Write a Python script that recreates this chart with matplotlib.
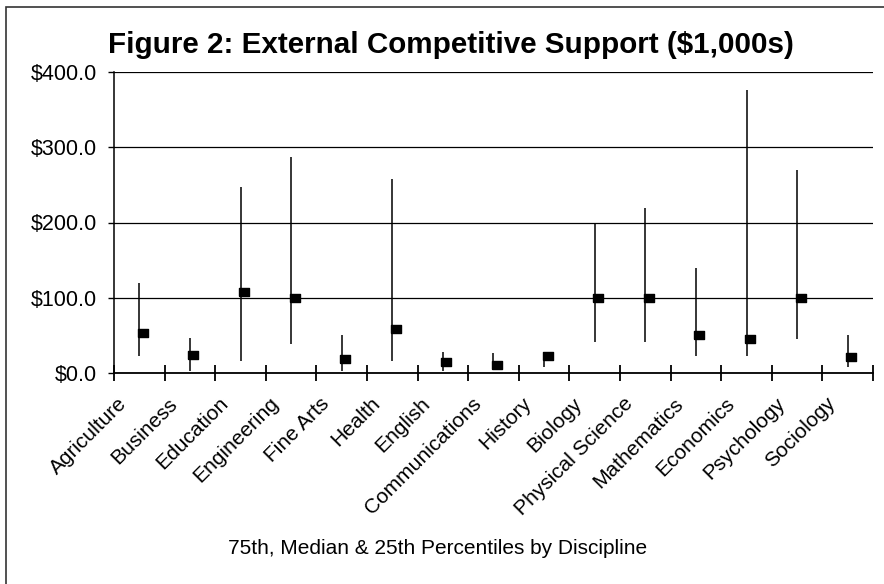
import matplotlib
matplotlib.use("Agg")
import matplotlib.pyplot as plt
from matplotlib.patches import Rectangle
from matplotlib.ticker import FixedLocator, FuncFormatter
from matplotlib.transforms import ScaledTranslation

plt.rcParams['font.family'] = ['Liberation Sans', 'DejaVu Sans']

disciplines = ["Agriculture", "Business", "Education", "Engineering", "Fine Arts",
               "Health", "English", "Communications", "History", "Biology",
               "Physical Science", "Mathematics", "Economics", "Psychology", "Sociology"]
p75 = [120, 46, 247, 287, 50, 258, 28, 26, 25, 198, 219, 139, 376, 270, 50]
median = [53, 24, 108, 100, 19, 58, 14, 11, 22, 100, 100, 51, 45, 100, 21]
p25 = [22, 3, 16, 39, 2, 16, 3, 4, 8, 41, 41, 22, 22, 45, 8]
yticks = [0, 100, 200, 300, 400]

fig = plt.figure(figsize=(8.84, 5.84), dpi=100)
ax = fig.add_axes([114 / 884, 1 - 373 / 584, 759 / 884, 301 / 584])

x = list(range(len(disciplines)))
ax.vlines(x, p25, p75, color="black", lw=1.1, zorder=3)
# median tick sits just to the right of the range line
box = [(-1, -0.85), (1, -0.85), (1, 0.85), (-1, 0.85), (-1, -0.85)]
ax.plot([i + 0.07 for i in x], median, linestyle="none", marker=box,
        markersize=6.5, color="black", zorder=4)

ax.set_xlim(-0.5, len(disciplines) - 0.5)
ax.set_ylim(0, 400)

ax.set_yticks(yticks)
ax.yaxis.set_major_formatter(FuncFormatter(lambda v, p: f"${v:.1f}"))
ax.tick_params(axis="y", length=4, width=1, labelsize=15.5, pad=8)
ax.grid(axis="y", color="black", lw=0.9)
ax.set_axisbelow(True)

ax.xaxis.set_major_locator(FixedLocator([i - 0.5 for i in range(len(disciplines) + 1)]))
ax.xaxis.set_minor_locator(FixedLocator(x))
ax.xaxis.set_major_formatter(FuncFormatter(lambda v, p: ""))
ax.set_xticklabels(disciplines, minor=True, rotation=45, ha="right",
                   rotation_mode="anchor", fontsize=15)
ax.tick_params(axis="x", which="major", direction="inout", length=12, width=1.3)
ax.tick_params(axis="x", which="minor", length=0, pad=5)
shift = ScaledTranslation(-22 / 100, -14 / 100, fig.dpi_scale_trans)
for lbl in ax.get_xticklabels(minor=True):
    lbl.set_transform(lbl.get_transform() + shift)

for s in ["top", "right"]:
    ax.spines[s].set_visible(False)
ax.spines["left"].set_linewidth(1.1)
ax.spines["bottom"].set_linewidth(1.3)

fig.text(108 / 884, 1 - 53 / 584, "Figure 2: External Competitive Support ($1,000s)",
         fontsize=21.3, fontweight="bold", ha="left", va="baseline")
fig.text(438 / 884, 1 - 548 / 584, "75th, Median & 25th Percentiles by Discipline",
         fontsize=15, ha="center", va="center")

# page border (only top and left show in the scan)
fig.add_artist(Rectangle((6 / 884, -0.1), 1.2, 1.1 - 7 / 584,
                         transform=fig.transFigure, fill=False,
                         edgecolor="#333333", lw=1.2))

fig.savefig("out.png", dpi=100)
